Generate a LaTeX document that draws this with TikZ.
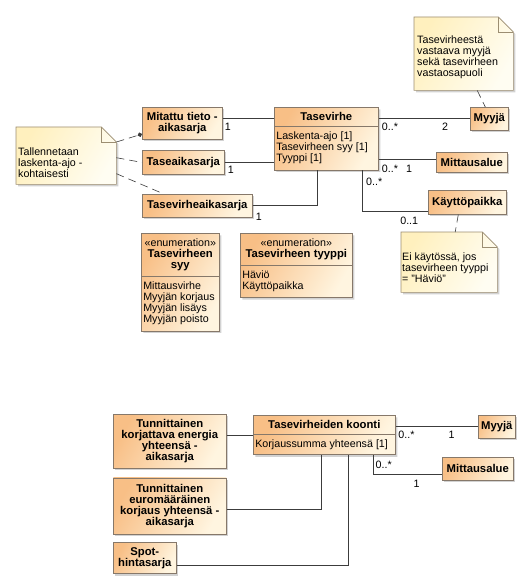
\documentclass[tikz,border=0pt]{standalone}
\usepackage{fontspec}
\setmainfont{Liberation Sans}
\usetikzlibrary{positioning,shapes.multipart,shadows,arrows.meta}

\definecolor{clsorange}{HTML}{F8BF86}
\definecolor{clspale}{HTML}{FFF5E0}
\definecolor{clsline}{HTML}{86786A}
\definecolor{noteyellow}{HTML}{FFF0BE}
\definecolor{notepale}{HTML}{FFFDF2}
\definecolor{notebord}{HTML}{9C8E72}
\definecolor{assocline}{HTML}{3C3C3C}

\newcommand{\txtsize}{\mdseries\fontsize{10.7}{11}\selectfont}
\newcommand{\hdsize}{\bfseries\fontsize{11.3}{11}\selectfont}
% note outline with a folded corner
\newcommand{\notepaper}[1]{%
  \path[notepaint] (#1.north west) -- ([xshift=-15pt]#1.north east)
    -- ([yshift=-15pt]#1.north east) -- (#1.south east) -- (#1.south west) -- cycle;
  \draw[notebord, line width=.6pt] ([xshift=-15pt]#1.north east) |- ([yshift=-15pt]#1.north east);}

\begin{document}
\begin{tikzpicture}[x=1pt, y=-1pt, font=\txtsize,
    assocstyle/.style={draw=assocline, line width=.7pt},
    notelink/.style={draw=assocline, line width=.6pt, dash pattern=on 8pt off 5pt},
    notepaint/.style={draw=notebord, line width=.6pt, top color=noteyellow, bottom color=notepale, shading angle=60,
        drop shadow={shadow xshift=2pt, shadow yshift=-2pt, fill=black!35, opacity=.5}},
    mult/.style={inner sep=0pt, font=\txtsize}]
    % A box style
    \tikzstyle{classnode} = [draw=clsline, line width=.6pt, top color=clsorange, bottom color=clspale, shading angle=60,
        drop shadow={shadow xshift=2pt, shadow yshift=-2pt, fill=black!35, opacity=.5},
        anchor=north west, align=center, inner xsep=2pt, inner ysep=5pt, font=\hdsize]
    \tikzstyle{splitnode} = [classnode, rectangle split, rectangle split parts=2, rectangle split part align={center,left}]
    \tikzstyle{notenode} = [anchor=north west, inner sep=0pt]
    \tikzstyle{notetext} = [inner sep=0pt, align=left, font=\txtsize]

    \path[use as bounding box, fill=white] (0,0) rectangle (530,585);

    % Time series on the left
    \node (Mitattu) [classnode, minimum width=80pt, minimum height=30pt] at (142,107) {Mitattu tieto -\\aikasarja};
    \node (TaseAS)  [classnode, below=11pt of Mitattu.south west, anchor=north west, minimum width=82pt, minimum height=24pt] {Taseaikasarja};
    \node (TvAS)    [classnode, below=19pt of TaseAS.south west, anchor=north west, minimum width=110pt, minimum height=23pt] {Tasevirheaikasarja};

    % The balance error class and its neighbours
    \node (Tasevirhe) [splitnode, minimum width=104pt] at (274,107)
        {Tasevirhe\nodepart{two}\txtsize\begin{tabular}{@{}l@{}}Laskenta-ajo [1]\\Tasevirheen syy [1]\\Tyyppi [1]\end{tabular}};
    \node (Myyja)   [classnode, minimum width=38pt, minimum height=23pt] at (470,107) {Myyjä};
    \node (Mittaus) [classnode, minimum width=71pt, minimum height=20pt] at (436,152) {Mittausalue};
    \node (Kaytto)  [classnode, minimum width=78pt, minimum height=24pt] at (428,190) {Käyttöpaikka};

    % Enumerations
    \node (Syy) [splitnode, font=\txtsize, minimum width=78pt] at (141,233)
        {«enumeration»\\{\hdsize Tasevirheen}\\{\hdsize syy}\nodepart{two}\begin{tabular}{@{}l@{}}Mittausvirhe\\Myyjän korjaus\\Myyjän lisäys\\Myyjän poisto\end{tabular}};
    \node (Tyyppi) [splitnode, font=\txtsize, minimum width=112pt, minimum height=74pt] at (240,233)
        {«enumeration»\\{\hdsize Tasevirheen tyyppi}\nodepart{two}\begin{tabular}{@{}l@{}}Häviö\\Käyttöpaikka\end{tabular}};

    % Notes
    \node (NoteLeft) [notenode, minimum width=100pt, minimum height=57pt] at (16,127) {};
    \notepaper{NoteLeft}
    \node (NoteLeftText) [notetext, below right=21pt and 2pt of NoteLeft.north west] {Tallennetaan\\laskenta-ajo -\\kohtaisesti};
    \node (NoteRight) [notenode, minimum width=99pt, minimum height=73pt] at (414,17) {};
    \notepaper{NoteRight}
    \node (NoteRightText) [notetext, below right=19pt and 3pt of NoteRight.north west] {Tasevirheestä\\vastaava myyjä\\sekä tasevirheen\\vastaosapuoli};
    \node (NoteKaytto) [notenode, minimum width=96pt, minimum height=60pt] at (401,232) {};
    \notepaper{NoteKaytto}
    \node (NoteKayttoText) [notetext, below right=21pt and 1pt of NoteKaytto.north west] {Ei käytössä, jos\\tasevirheen tyyppi\\= "Häviö"};

    % Lower diagram
    \node (Energia) [classnode, minimum width=113pt, minimum height=54pt] at (113,414) {Tunnittainen\\korjattava energia\\yhteensä -\\aikasarja};
    \node (Euro)    [classnode, below=9pt of Energia.south west, anchor=north west, minimum width=113pt, minimum height=56pt] {Tunnittainen\\euromääräinen\\korjaus yhteensä -\\aikasarja};
    \node (Spot)    [classnode, below=8pt of Euro.south west, anchor=north west, minimum width=63pt, minimum height=27pt] {Spot-\\hintasarja};
    \node (Koonti)  [splitnode, minimum width=142pt] at (253,415) {Tasevirheiden koonti\nodepart{two}\txtsize Korjaussumma yhteensä [1]};
    \node (Myyja2)  [classnode, minimum width=37pt, minimum height=23pt] at (478,415) {Myyjä};
    \node (Mittaus2) [classnode, minimum width=71pt, minimum height=23pt] at (442,457) {Mittausalue};

    % Associations, upper part
    \coordinate (MitattuR) at ([yshift=5pt]Mitattu.east);
    \draw[assocstyle] (MitattuR) -- (MitattuR -| Tasevirhe.west) node[mult, pos=0, below right=5pt and 2pt] (mMitattu) {1};
    \draw[assocstyle] (TaseAS.east) -- (TaseAS.east -| Tasevirhe.west) node[mult, pos=0, below right=3pt and 3pt] (mTaseAS) {1};
    \draw[assocstyle] (TvAS.east) -| ([xshift=-9pt]Tasevirhe.south) node[mult, pos=0, below right=7pt and 3pt] (mTvAS) {1};
    \draw[assocstyle] (Myyja.west) -- (Myyja.west -| Tasevirhe.east)
        node[mult, pos=0, below left=4pt and 21.5pt] (mMyyja) {2}
        node[mult, pos=1, below right=4pt and 3pt] (mTvMyyja) {0..*};
    \coordinate (MittausL) at ([yshift=3pt]Mittaus.west);
    \draw[assocstyle] (MittausL) -- (MittausL -| Tasevirhe.east)
        node[mult, pos=0, below left=5pt and 23.5pt] (mMittaus) {1}
        node[mult, pos=1, below right=5pt and 3pt] (mTvMittaus) {0..*};
    \draw[assocstyle] ([yshift=-9pt]Kaytto.west) -| ([xshift=36pt]Tasevirhe.south)
        node[mult, pos=0, below left=5pt and 9.5pt] (mKaytto) {0..1}
        node[mult, pos=1, below right=7pt and 3.5pt] (mTvKaytto) {0..*};

    % Note links
    \draw[notelink, -{Circle[length=4.5pt]}] ([yshift=-15pt]NoteLeft.north east) -- ([yshift=-11pt]Mitattu.west);
    \draw[notelink] ([yshift=-2pt]NoteLeft.east) -- (TaseAS.west);
    \draw[notelink] ([yshift=-18pt]NoteLeft.east) -- ([xshift=-34pt]TvAS.north);
    \draw[notelink] ([xshift=13.5pt]NoteRight.south) -- ([xshift=-4pt]Myyja.north);
    \draw[notelink] ([xshift=-9pt]Kaytto.south) -- ([xshift=6pt]NoteKaytto.north);

    % Associations, lower part
    \coordinate (EnergiaR) at ([yshift=6pt]Energia.east);
    \draw[assocstyle] (EnergiaR) -- (EnergiaR -| Koonti.west);
    \draw[assocstyle] ([yshift=-3pt]Euro.east) -| ([xshift=-3pt]Koonti.south);
    \draw[assocstyle] ([yshift=-7.5pt]Spot.east) -| ([xshift=24pt]Koonti.south);
    \draw[assocstyle] (Myyja2.west) -- (Myyja2.west -| Koonti.east)
        node[mult, pos=0, below left=3.5pt and 23pt] (mMyyja2) {1}
        node[mult, pos=1, below right=3.5pt and 2.5pt] (mKoontiMyyja) {0..*};
    \draw[assocstyle] ([yshift=-5.5pt]Mittaus2.west) -| ([xshift=49pt]Koonti.south)
        node[mult, pos=0, below left=5pt and 22pt] (mMittaus2) {1}
        node[mult, pos=1, below right=6pt and 2pt] (mKoontiMittaus) {0..*};
\end{tikzpicture}
\end{document}
